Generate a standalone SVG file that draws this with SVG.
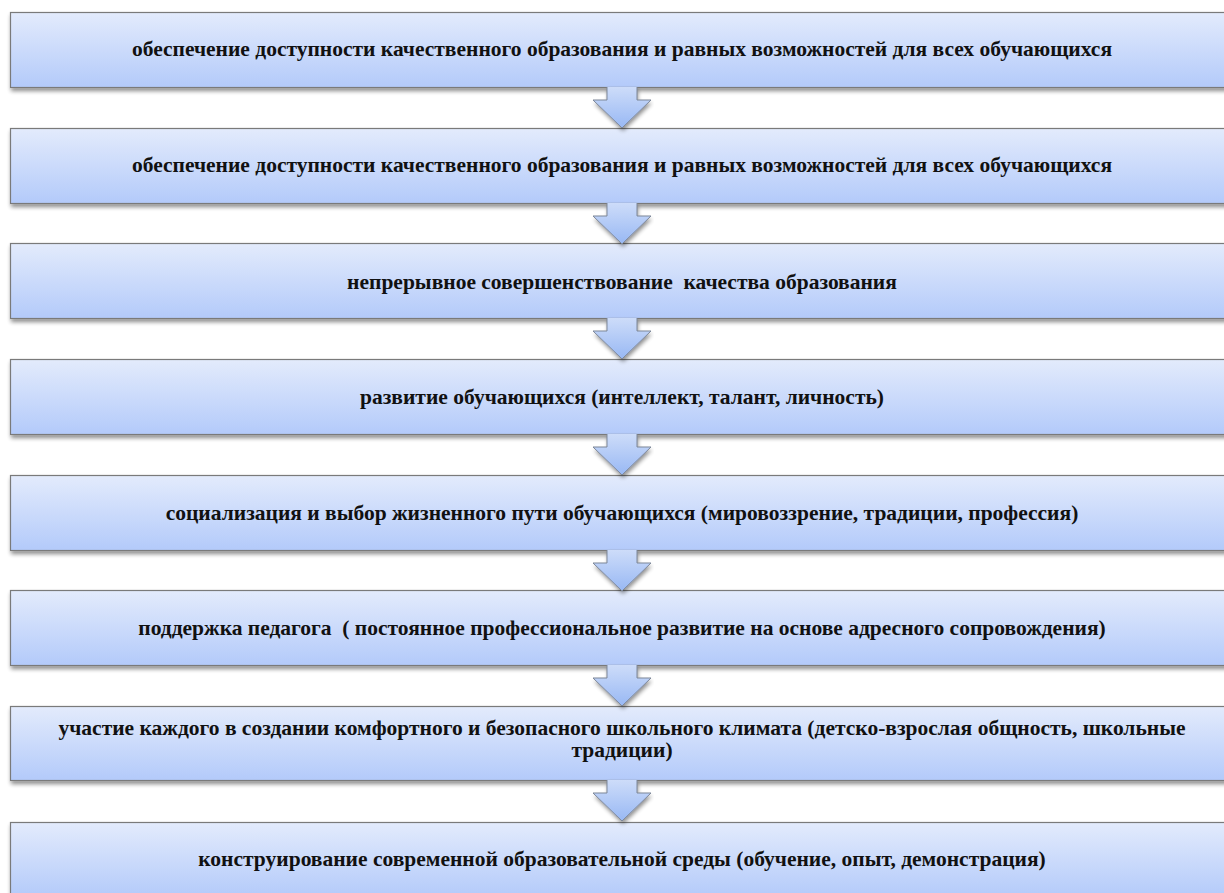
<svg xmlns="http://www.w3.org/2000/svg" width="1224" height="893" viewBox="0 0 1224 893">
<defs>
<linearGradient id="boxg" x1="0" y1="0" x2="0" y2="1">
<stop offset="0" stop-color="#e3ebfc"/>
<stop offset="1" stop-color="#b3cafa"/>
</linearGradient>
<linearGradient id="arrg" x1="0" y1="0" x2="0" y2="1">
<stop offset="0" stop-color="#cddcf9"/>
<stop offset="1" stop-color="#98b8f4"/>
</linearGradient>
<filter id="sh" x="-5%" y="-20%" width="110%" height="150%">
<feGaussianBlur in="SourceAlpha" stdDeviation="2"/>
<feOffset dx="1" dy="3" result="b"/>
<feComponentTransfer><feFuncA type="linear" slope="0.45"/></feComponentTransfer>
<feMerge><feMergeNode/><feMergeNode in="SourceGraphic"/></feMerge>
</filter>
<g id="arrow">
<path d="M607,0 L637,0 L637,13 L651,13 L622,41 L593,13 L607,13 Z" fill="url(#arrg)" filter="url(#sh)"/>
<path d="M607,0 L607,13 L593,13 L622,41 L651,13 L637,13 L637,0" fill="none" stroke="#7d8799" stroke-width="1"/>
</g>
</defs>
<style>
.box{fill:url(#boxg);stroke:#7a7a7a;stroke-width:1.2;filter:url(#sh)}
text{font-family:'Liberation Serif','Times New Roman',serif;font-weight:700;font-size:21.5px;fill:#111;text-anchor:middle;white-space:pre}
</style>
<rect width="1224" height="893" fill="#fff"/>
<g id="node1"><rect class="box" x="10.5" y="12.5" width="1224" height="75"/><text x="622" y="56">обеспечение доступности качественного образования и равных возможностей для всех обучающихся</text></g>
<g id="node2"><rect class="box" x="10.5" y="128.5" width="1224" height="75"/><text x="622" y="172">обеспечение доступности качественного образования и равных возможностей для всех обучающихся</text></g>
<g id="node3"><rect class="box" x="10.5" y="243.5" width="1224" height="75"/><text x="622" y="289" xml:space="preserve">непрерывное совершенствование  качества образования</text></g>
<g id="node4"><rect class="box" x="10.5" y="359.5" width="1224" height="75"/><text x="622" y="404">развитие обучающихся (интеллект, талант, личность)</text></g>
<g id="node5"><rect class="box" x="10.5" y="475.5" width="1224" height="75"/><text x="622" y="520">социализация и выбор жизненного пути обучающихся (мировоззрение, традиции, профессия)</text></g>
<g id="node6"><rect class="box" x="10.5" y="590.5" width="1224" height="75"/><text x="622" y="635" xml:space="preserve">поддержка педагога  ( постоянное профессиональное развитие на основе адресного сопровождения)</text></g>
<g id="node7"><rect class="box" x="10.5" y="706.5" width="1224" height="74"/><text x="622" y="735">участие каждого в создании комфортного и безопасного школьного климата (детско-взрослая общность, школьные</text><text x="622" y="757">традиции)</text></g>
<g id="node8"><rect class="box" x="10.5" y="822.5" width="1224" height="75"/><text x="622" y="866">конструирование современной образовательной среды (обучение, опыт, демонстрация)</text></g>
<g id="connectors">
<use href="#arrow" x="0" y="87"/>
<use href="#arrow" x="0" y="203"/>
<use href="#arrow" x="0" y="318"/>
<use href="#arrow" x="0" y="434"/>
<use href="#arrow" x="0" y="550"/>
<use href="#arrow" x="0" y="665"/>
<use href="#arrow" x="0" y="780"/>
</g>
</svg>
